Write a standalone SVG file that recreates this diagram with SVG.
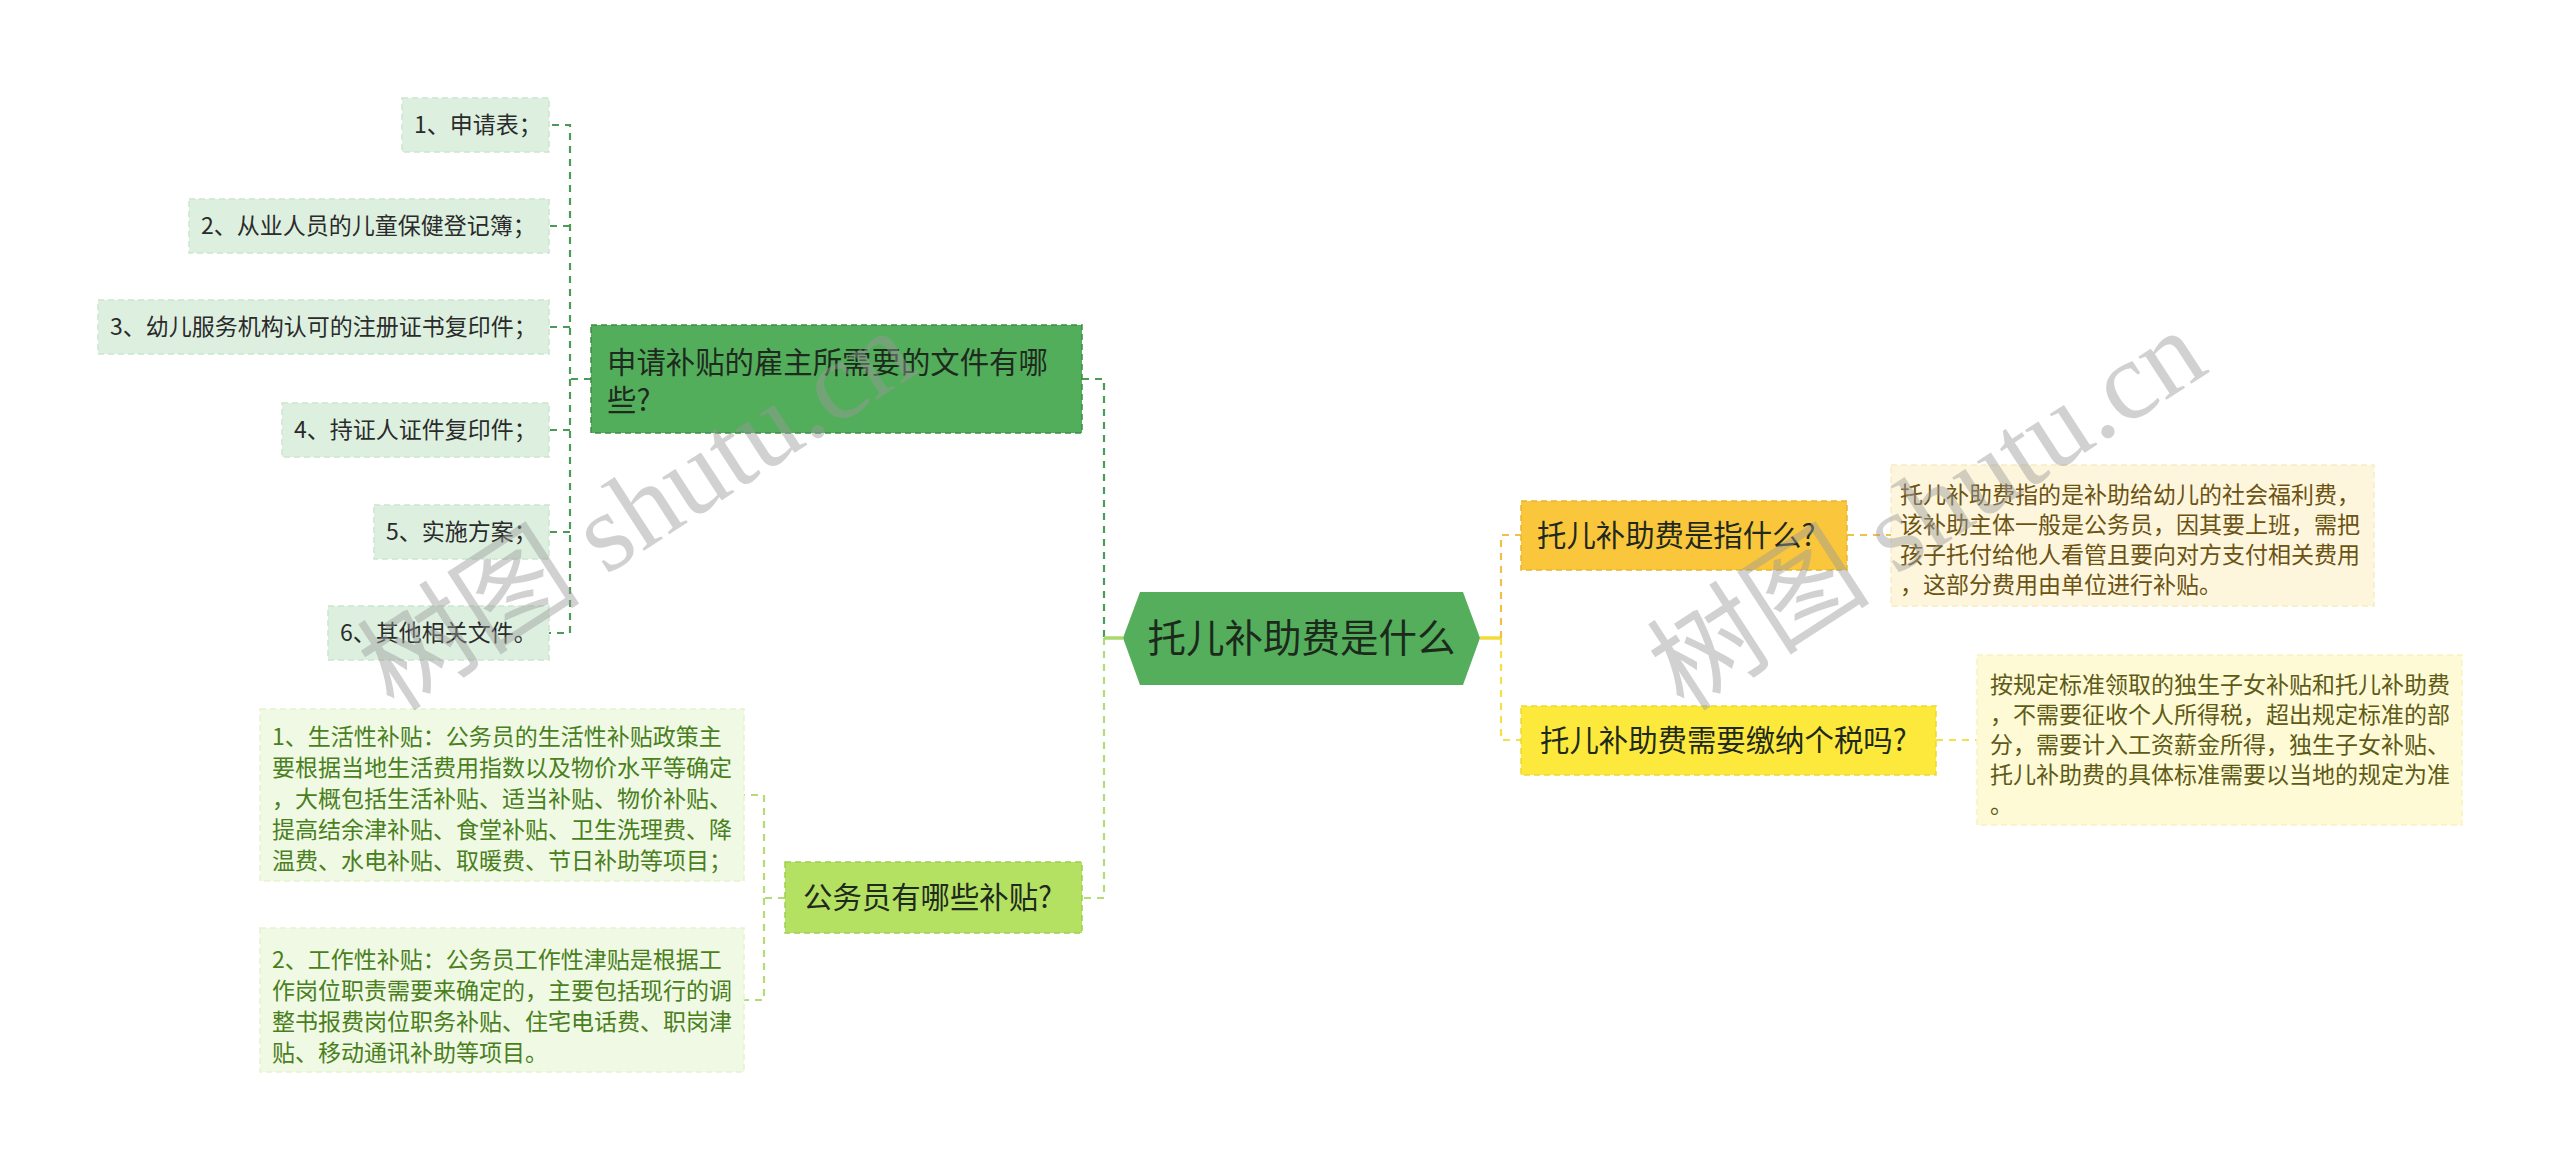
<svg xmlns="http://www.w3.org/2000/svg" width="2560" height="1169" viewBox="0 0 2560 1169">
<style>
text{font-family:"Noto Sans CJK SC","Noto Sans",sans-serif}
.t23{font-size:23px}
.t29{font-size:29.4px;fill:#1f2a1f}
.leaf{fill:#ddf0e0;stroke:#cbe5cf;stroke-width:1.5;stroke-dasharray:6 4}
.leaft{fill:#2b2b2b}
.gleaf{fill:#f0f9e4;stroke:#e3f2cf;stroke-width:1.5;stroke-dasharray:6 4}
.gleaft{fill:#4a7f1e}
.c{fill:none;stroke-width:2.2;stroke-dasharray:7 6}
.dg{stroke:#4b9a58}
.lg{stroke:#b3dc78}
.og{stroke:#f0c049}
.yg{stroke:#f5e04a}
.wm{font-family:"Liberation Serif","Noto Sans CJK SC",serif;font-size:112px;fill:#9a9a9a;opacity:0.45}
</style>
<rect width="2560" height="1169" fill="#ffffff"/>
<g id="connectors">
<path class="c dg" d="M591,379 H570 V125 H549"/>
<path class="c dg" d="M570,226 H549"/>
<path class="c dg" d="M570,327 H549"/>
<path class="c dg" d="M570,430 H549"/>
<path class="c dg" d="M570,532 H549"/>
<path class="c dg" d="M570,379 V633 H549"/>
<path class="c dg" d="M1082,379 H1104 V638"/>
<path class="c lg" d="M1104,638 V898 H1082"/>
<path d="M1123,638 H1104" stroke="#a9d86c" stroke-width="3.5" fill="none"/>
<path class="c lg" d="M785,898 H764 V795 H744"/>
<path class="c lg" d="M764,898 V1000 H744"/>
<path d="M1480,638 H1501" stroke="#f3dc3a" stroke-width="3.5" fill="none"/>
<path class="c og" d="M1501,638 V535 H1521"/>
<path class="c yg" d="M1501,638 V740 H1521"/>
<path class="c og" d="M1847,535 H1891"/>
<path class="c yg" d="M1936,740 H1977"/>
</g>
<g id="root">
<polygon points="1123,638 1140,592 1463,592 1480,638 1463,685 1140,685" fill="#54ae5c"/>
<text x="1301.5" y="652" font-size="38.5" text-anchor="middle" fill="#1c2a1c">托儿补助费是什么</text>
</g>
<g id="n-apply">
<rect x="591" y="325" width="491" height="108" fill="#53ae5b" stroke="#3e8e48" stroke-width="1.5" stroke-dasharray="6 4"/>
<text class="t29" x="607" y="372.5">申请补贴的雇主所需要的文件有哪</text>
<text class="t29" x="607" y="410.5">些?</text>
</g>
<g id="n-a1"><rect class="leaf" x="402" y="98" width="147" height="54"/><text class="t23 leaft" x="414" y="133">1、申请表；</text></g>
<g id="n-a2"><rect class="leaf" x="189" y="199" width="360" height="54"/><text class="t23 leaft" x="201" y="234">2、从业人员的儿童保健登记簿；</text></g>
<g id="n-a3"><rect class="leaf" x="98" y="300" width="451" height="54"/><text class="t23 leaft" x="110" y="335">3、幼儿服务机构认可的注册证书复印件；</text></g>
<g id="n-a4"><rect class="leaf" x="282" y="403" width="267" height="54"/><text class="t23 leaft" x="294" y="438">4、持证人证件复印件；</text></g>
<g id="n-a5"><rect class="leaf" x="374" y="505" width="175" height="54"/><text class="t23 leaft" x="386" y="540">5、实施方案；</text></g>
<g id="n-a6"><rect class="leaf" x="328" y="606" width="221" height="54"/><text class="t23 leaft" x="340" y="641">6、其他相关文件。</text></g>
<g id="n-civil">
<rect x="785" y="862" width="297" height="71" fill="#b4e162" stroke="#a0cf50" stroke-width="1.5" stroke-dasharray="6 4"/>
<text class="t29" x="803" y="908">公务员有哪些补贴?</text>
</g>
<g id="n-c1">
<rect class="gleaf" x="260" y="709" width="484" height="172"/>
<text class="t23 gleaft" x="272" y="745">1、生活性补贴：公务员的生活性补贴政策主</text>
<text class="t23 gleaft" x="272" y="776">要根据当地生活费用指数以及物价水平等确定</text>
<text class="t23 gleaft" x="272" y="807">，大概包括生活补贴、适当补贴、物价补贴、</text>
<text class="t23 gleaft" x="272" y="838">提高结余津补贴、食堂补贴、卫生洗理费、降</text>
<text class="t23 gleaft" x="272" y="869">温费、水电补贴、取暖费、节日补助等项目；</text>
</g>
<g id="n-c2">
<rect class="gleaf" x="260" y="928" width="484" height="144"/>
<text class="t23 gleaft" x="272" y="968">2、工作性补贴：公务员工作性津贴是根据工</text>
<text class="t23 gleaft" x="272" y="999">作岗位职责需要来确定的，主要包括现行的调</text>
<text class="t23 gleaft" x="272" y="1030">整书报费岗位职务补贴、住宅电话费、职岗津</text>
<text class="t23 gleaft" x="272" y="1061">贴、移动通讯补助等项目。</text>
</g>
<g id="n-what">
<rect x="1521" y="501" width="326" height="69" fill="#fac73c" stroke="#eab52c" stroke-width="1.5" stroke-dasharray="6 4"/>
<text class="t29" x="1537" y="546">托儿补助费是指什么?</text>
</g>
<g id="n-what-d">
<rect x="1891" y="465" width="483" height="141" fill="#fef6dc" stroke="#f8ecc4" stroke-width="1.5" stroke-dasharray="6 4"/>
<text class="t23" fill="#6b5314" x="1900" y="503">托儿补助费指的是补助给幼儿的社会福利费，</text>
<text class="t23" fill="#6b5314" x="1900" y="533">该补助主体一般是公务员，因其要上班，需把</text>
<text class="t23" fill="#6b5314" x="1900" y="563">孩子托付给他人看管且要向对方支付相关费用</text>
<text class="t23" fill="#6b5314" x="1900" y="593">，这部分费用由单位进行补贴。</text>
</g>
<g id="n-tax">
<rect x="1521" y="706" width="415" height="69" fill="#fde93b" stroke="#f0d82c" stroke-width="1.5" stroke-dasharray="6 4"/>
<text class="t29" x="1540" y="751">托儿补助费需要缴纳个税吗?</text>
</g>
<g id="n-tax-d">
<rect x="1977" y="655" width="485" height="170" fill="#fefad5" stroke="#f8f2c0" stroke-width="1.5" stroke-dasharray="6 4"/>
<text class="t23" fill="#5e5a18" x="1990" y="693">按规定标准领取的独生子女补贴和托儿补助费</text>
<text class="t23" fill="#5e5a18" x="1990" y="723">，不需要征收个人所得税，超出规定标准的部</text>
<text class="t23" fill="#5e5a18" x="1990" y="753">分，需要计入工资薪金所得，独生子女补贴、</text>
<text class="t23" fill="#5e5a18" x="1990" y="783">托儿补助费的具体标准需要以当地的规定为准</text>
<text class="t23" fill="#5e5a18" x="1990" y="813">。</text>
</g>
<g id="watermark">
<text class="wm" x="637" y="510" text-anchor="middle" dominant-baseline="central" transform="rotate(-33 637 510)">树图 shutu.cn</text>
<text class="wm" x="1927" y="510" text-anchor="middle" dominant-baseline="central" transform="rotate(-33 1927 510)">树图 shutu.cn</text>
</g>
</svg>
